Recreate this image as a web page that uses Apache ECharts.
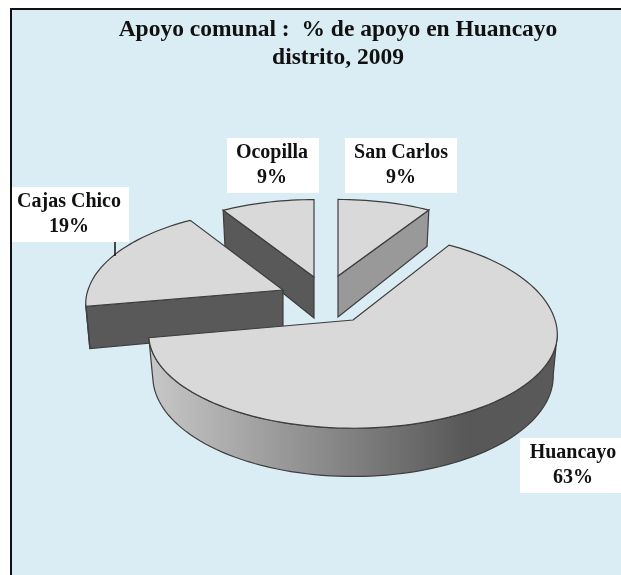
<!DOCTYPE html>
<html>
<head>
<meta charset="utf-8">
<style>
html, body { margin: 0; padding: 0; background: #fff; }
#chart { width: 621px; height: 575px; }
</style>
<script src="https://cdn.jsdelivr.net/npm/echarts@6/dist/echarts.min.js"></script>
</head>
<body>
<div id="chart"></div>
<script>
// clockwise from twelve o'clock, as in the picture
var categories = ['San Carlos', 'Huancayo', 'Cajas Chico', 'Ocopilla'];
var values = [9, 63, 19, 9];

// slice tips (exploded), label boxes and paint order
var tips = [[338, 276], [353, 320], [283, 290], [314, 277]];
var boxes = [[345, 138, 112, 55], [520, 438, 101, 55], [12, 187, 117, 55], [227, 138, 92, 55]];
var labelX = [401, 573, 69, 272];
var paintOrder = [1, 3, 2, 0];
var sideColors = ['#999999', null, '#595959', '#595959'];

// the old 3D pie is not a clean ellipse, so each slice gets its own radii
var radiiX = [191, 202, 195, 191];
var radiiFar = [88, 100, 93, 89];
var radiiNear = [92, 92, 85, 92];
var persp = 0.15, depth = 41, taper = 0.02;
var labelFont = 'bold 20px "Liberation Serif"';

function rim(i, deg) {
    var a = deg * Math.PI / 180;
    var u = Math.sin(a), v = Math.cos(a), w = 1 + persp * v;
    var ry = v > 0 ? radiiFar[i] : radiiNear[i];
    return [tips[i][0] + radiiX[i] * u / w, tips[i][1] - ry * v / w, w];
}
function downer(i) {
    return function (p) {
        return [p[0] + (tips[i][0] - p[0]) * taper, p[1] + depth / p[2]];
    };
}

var total = values.reduce(function (s, v) { return s + v; }, 0);

function renderSlice(params, api) {
    var i = params.dataIndex;
    var start = 0;
    for (var k = 0; k < i; k++) start += values[k];
    var a0 = start / total * 360;
    var a1 = (start + api.value(0)) / total * 360;
    var tipPt = [tips[i][0], tips[i][1], 1];
    var base = paintOrder[i] * 10;
    var down = downer(i);
    var arc = [];
    var n = Math.ceil((a1 - a0) / 2);
    for (var s = 0; s <= n; s++) arc.push(rim(i, a0 + (a1 - a0) * s / n));

    var kids = [];
    var stroke = '#3d3d3d';

    // radial side walls that face the viewer
    [[tipPt, arc[0]], [arc[n], tipPt]].forEach(function (e) {
        if (e[1][0] - e[0][0] < -1 && sideColors[i]) {
            kids.push({
                type: 'polygon', z2: base,
                shape: { points: [e[0], e[1], down(e[1]), down(e[0])] },
                style: { fill: sideColors[i], stroke: stroke, lineWidth: 1.2 }
            });
        }
    });

    // outer wall, the part of the rim running leftwards on screen
    var run = [];
    for (s = 1; s <= n; s++) {
        if (arc[s][0] < arc[s - 1][0]) {
            if (!run.length) run.push(arc[s - 1]);
            run.push(arc[s]);
        }
    }
    if (run.length > 1) {
        var fill = sideColors[i] || new echarts.graphic.LinearGradient(0, 0, 1, 0, [
            { offset: 0, color: '#c8c8c8' },
            { offset: 0.5, color: '#808080' },
            { offset: 0.78, color: '#575757' },
            { offset: 1, color: '#5a5a5a' }
        ]);
        kids.push({
            type: 'polygon', z2: base,
            shape: { points: run.concat(run.map(down).reverse()) },
            style: { fill: fill, stroke: stroke, lineWidth: 1.2 }
        });
    }

    // top face
    kids.push({
        type: 'polygon', z2: base + 1,
        shape: { points: [tipPt].concat(arc) },
        style: { fill: '#d9d9d9', stroke: stroke, lineWidth: 1.2 }
    });

    // white label box
    var b = boxes[i];
    kids.push({
        type: 'rect', z2: 100,
        shape: { x: b[0], y: b[1], width: b[2], height: b[3] },
        style: { fill: '#fff' }
    });
    kids.push({
        type: 'text', z2: 101,
        style: {
            x: labelX[i], y: b[1] + b[3] / 2,
            text: categories[i] + '\n' + Math.round(api.value(0) / total * 100) + '%',
            align: 'center', verticalAlign: 'middle',
            font: labelFont, lineHeight: 25, fill: '#111'
        }
    });
    return { type: 'group', children: kids };
}

var myChart = echarts.init(document.getElementById('chart'));

myChart.setOption({
    animation: false,
    title: {
        text: 'Apoyo comunal :  % de apoyo en Huancayo\ndistrito, 2009',
        left: 333,
        top: 11,
        textAlign: 'center',
        textStyle: {
            fontFamily: 'Liberation Serif',
            fontWeight: 'bold',
            fontSize: 23.5,
            lineHeight: 28,
            color: '#111'
        }
    },
    graphic: [
        {
            type: 'rect', z: -1,
            shape: { x: 11, y: 9, width: 700, height: 700 },
            style: { fill: '#daedf4', stroke: '#111', lineWidth: 2 }
        },
        {
            type: 'line', z: 10,
            shape: { x1: 115, y1: 242, x2: 115, y2: 256 },
            style: { stroke: '#111', lineWidth: 1.5 }
        }
    ],
    series: [{
        type: 'custom',
        coordinateSystem: 'none',
        renderItem: renderSlice,
        data: values.map(function (v) { return [v]; })
    }]
});
</script>
</body>
</html>
